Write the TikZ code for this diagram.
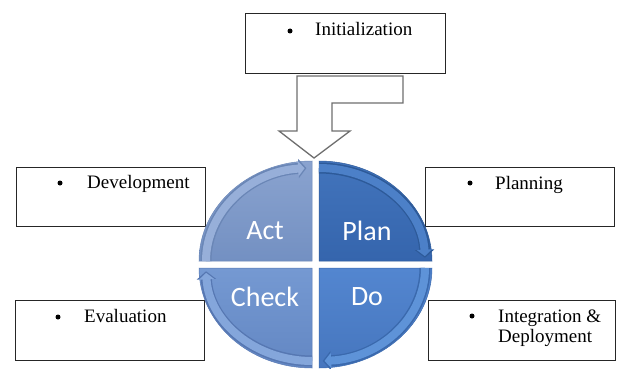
\documentclass[tikz,border=0pt]{standalone}
\usepackage{fontspec}
\setmainfont{Liberation Serif}
\newfontfamily\calib{Carlito}
\usetikzlibrary{arrows.meta}
\definecolor{actT}{HTML}{8AA3CF}
\definecolor{actB}{HTML}{7390C2}
\definecolor{actR}{HTML}{97AFD9}
\definecolor{actE}{HTML}{6A86B6}
\definecolor{planT}{HTML}{4274BC}
\definecolor{planB}{HTML}{3565AD}
\definecolor{planR}{HTML}{4C80C8}
\definecolor{planE}{HTML}{2D5A99}
\definecolor{doT}{HTML}{5386D0}
\definecolor{doB}{HTML}{4676BE}
\definecolor{doR}{HTML}{5E93D8}
\definecolor{doE}{HTML}{3A69AD}
\definecolor{chkT}{HTML}{7599D2}
\definecolor{chkB}{HTML}{6387C3}
\definecolor{chkR}{HTML}{84A6DB}
\definecolor{chkE}{HTML}{5677B2}
\definecolor{arrgray}{HTML}{6E6E6E}
\begin{document}
\begin{tikzpicture}[x=1pt,y=-1pt,
  box/.style={draw=black!85,line width=0.9pt,fill=white},
  btxt/.style={anchor=base west,inner sep=0,font=\fontsize{19}{20}\selectfont},
  bul/.style={circle,fill=black,inner sep=0,minimum size=5pt},
  qlab/.style={text=white,font=\calib\fontsize{28}{30}\selectfont},
  quad/.style={line width=0.5pt},
  bandout/.style={line width=11pt,-{Triangle[length=8pt,width=19pt]}},
  bandin/.style={line width=8pt,-{Triangle[length=6.5pt,width=15pt]}},
  inarrow/.style={draw=arrgray,fill=white,line width=1.3pt,line join=miter}
  ]
\useasboundingbox (0,0) rectangle (619,369);

% text boxes
\draw[box] (245,13) rectangle (445,73);
\draw[box] (16,167) rectangle (205,226);
\draw[box] (15,300) rectangle (204,360);
\draw[box] (425,167) rectangle (614,226);
\draw[box] (428,300) rectangle (615,360);

\node[bul] (b1) at (290,31) {};
\node[btxt] (t1) at (315,36) {Initialization};
\node[bul] (b2) at (60,183) {};
\node[btxt] (t2) at (87,188) {Development};
\node[bul] (b3) at (58,317) {};
\node[btxt] (t3) at (84,322) {Evaluation};
\node[bul] (b4) at (470,183) {};
\node[btxt] (t4) at (495,189) {Planning};
\node[bul] (b5) at (472,316) {};
\node[btxt] (t5) at (498,322) {Integration \&};
\node[btxt] (t6) at (498,342) {Deployment};

% quadrants
\draw[quad,draw=actE,top color=actT,bottom color=actB]
  (312,261) -- (199,261) arc[start angle=180,end angle=270,x radius=113,y radius=100] -- cycle;
\draw[quad,draw=planE,top color=planT,bottom color=planB]
  (319,261) -- (319,161) arc[start angle=270,end angle=360,x radius=113,y radius=100] -- cycle;
\draw[quad,draw=doE,top color=doT,bottom color=doB]
  (319,268) -- (432,268) arc[start angle=0,end angle=90,x radius=113,y radius=100] -- cycle;
\draw[quad,draw=chkE,top color=chkT,bottom color=chkB]
  (312,268) -- (312,368) arc[start angle=90,end angle=180,x radius=113,y radius=100] -- cycle;

% circular arrows
\draw[bandout,draw=actE] (312,261) ++(180:106 and 93) arc[start angle=180,end angle=267,x radius=106,y radius=93];
\draw[bandin,draw=actR] (312,261) ++(180:106 and 93) arc[start angle=180,end angle=266,x radius=106,y radius=93];
\draw[bandout,draw=planE] (319,261) ++(270:106 and 93) arc[start angle=270,end angle=358,x radius=106,y radius=93];
\draw[bandin,draw=planR] (319,261) ++(270:106 and 93) arc[start angle=270,end angle=357,x radius=106,y radius=93];
\draw[bandout,draw=doE] (319,268) ++(0:106 and 93) arc[start angle=0,end angle=88,x radius=106,y radius=93];
\draw[bandin,draw=doR] (319,268) ++(0:106 and 93) arc[start angle=0,end angle=87,x radius=106,y radius=93];
\draw[bandout,draw=chkE] (312,268) ++(90:106 and 93) arc[start angle=90,end angle=178,x radius=106,y radius=93];
\draw[bandin,draw=chkR] (312,268) ++(90:106 and 93) arc[start angle=90,end angle=177,x radius=106,y radius=93];

\node[qlab] (act) at (265,231) {Act};
\node[qlab] (plan) at (367,231) {Plan};
\node[qlab] (check) at (265,297) {Check};
\node[qlab] (do) at (367,297) {Do};

% bent input arrow
\draw[inarrow] (297,76) -- (403,76) -- (403,103) -- (332,103) -- (332,131)
  -- (350,131) -- (314,158) -- (279,131) -- (297,131) -- cycle;
\end{tikzpicture}
\end{document}
